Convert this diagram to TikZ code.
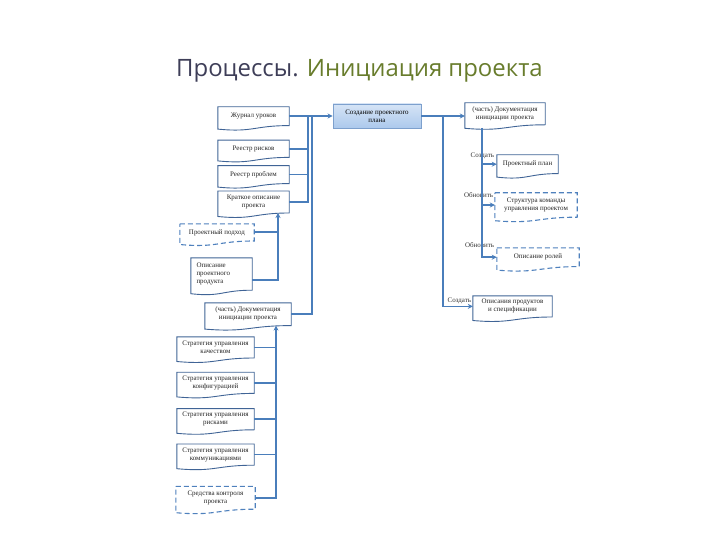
\documentclass[tikz,border=0pt]{standalone}
\usepackage{fontspec}
\setmainfont{Liberation Serif}
\newfontfamily\titlefont{Open Sans}
\usepackage{tikz}
\usetikzlibrary{arrows.meta, positioning, calc, backgrounds}
\definecolor{linkblue}{RGB}{74,126,187}
\definecolor{edgeblue}{RGB}{64,100,150}
\definecolor{dashblue}{RGB}{79,129,189}
\definecolor{ctrtop}{RGB}{214,228,246}
\definecolor{ctrbot}{RGB}{172,201,236}
\definecolor{ctredge}{RGB}{125,160,205}
\definecolor{titlegray}{RGB}{62,62,88}
\definecolor{titlegreen}{RGB}{104,124,44}
\definecolor{labelgray}{RGB}{50,50,50}
\tikzset{
  docbox/.style={rectangle,align=center,inner sep=1bp,font=\fontsize{7}{8}\selectfont,text=black!85},
  docline/.style={draw=edgeblue,line width=0.9bp,fill=white},
  dashline/.style={draw=dashblue,line width=1.1bp,dash pattern=on 5bp off 3bp,fill=white},
  procbox/.style={rectangle,draw=ctredge,line width=0.9bp,top color=ctrtop,bottom color=ctrbot,align=center,
                  font=\fontsize{7}{8}\selectfont,minimum width=88bp,minimum height=24bp,inner sep=1bp},
  actlabel/.style={font=\fontsize{7}{8}\selectfont,text=labelgray,inner sep=0.5bp,anchor=east},
  link/.style={draw=linkblue,line width=1.8bp},
  arr/.style={link,-{Stealth[length=5bp,width=5bp]}},
  titlepart/.style={font=\titlefont\fontsize{24}{28}\selectfont,inner sep=0pt,anchor=base west}
}

\begin{document}
\begin{tikzpicture}[x=1bp,y=-1bp]
  \useasboundingbox (0,0) rectangle (720,540);

  \node[titlepart] (title) at (176,77) {\textcolor{titlegray}{Процессы.} \textcolor{titlegreen}{Инициация проекта}};

  \node[docbox,minimum width=71bp,minimum height=18.4bp] (jrn) at (253.5,116.2) {Журнал уроков};
  \node[docbox,minimum width=71bp,minimum height=16.8bp,below=14.6bp of jrn] (rsk) {Реестр рисков};
  \node[docbox,minimum width=71bp,minimum height=17.6bp,below=8.2bp of rsk] (prb) {Реестр проблем};
  \node[docbox,minimum width=71bp,minimum height=21.6bp,below=7.4bp of prb] (brf) {Краткое описание\\проекта};
  \node[docbox,minimum width=74bp,minimum height=16.8bp] (apr) at (217,232.4) {Проектный подход};
  \node[docbox,minimum width=61bp,minimum height=32bp,align=left,text width=50bp] (pdd) at (221.5,274) {Описание\\проектного\\продукта};
  \node[docbox,minimum width=86bp,minimum height=22.4bp] (pid1) at (248,314.2) {(часть) Документация\\инициации проекта};
  \node[docbox,minimum width=77bp,minimum height=20.8bp] (qlt) at (215.5,347.4) {Стратегия управления\\качеством};
  \node[docbox,minimum width=77bp,minimum height=20.8bp,below=14.2bp of qlt] (cfg) {Стратегия управления\\конфигурацией};
  \node[docbox,minimum width=77bp,minimum height=20.8bp,below=15.2bp of cfg] (rskS) {Стратегия управления\\рисками};
  \node[docbox,minimum width=77bp,minimum height=20.8bp,below=14.2bp of rskS] (com) {Стратегия управления\\коммуникациями};
  \node[docbox,minimum width=79bp,minimum height=22.4bp,below=21.2bp of com] (ctl) {Средства контроля\\проекта};

  \node[procbox] (ctr) at (377,116) {Создание проектного\\плана};

  \node[docbox,minimum width=80bp,minimum height=21.6bp] (pidR) at (505,113.8) {(часть) Документация\\инициации проекта};
  \node[docbox,minimum width=61bp,minimum height=18.4bp] (pln) at (527.5,164.2) {Проектный план};
  \node[docbox,minimum width=82bp,minimum height=24bp] (mts) at (536,205) {Структура команды\\управления проектом};
  \node[docbox,minimum width=82bp,minimum height=18.4bp] (rol) at (538,257.2) {Описание ролей};
  \node[docbox,minimum width=79bp,minimum height=20.8bp] (prd) at (512.5,306.4) {Описания продуктов\\и спецификации};

  \node[actlabel] (lcr) at ($(pln.west)+(-2,-8)$) {Создать};
  \node[actlabel] (lup) at ($(mts.west)+(-1,-10)$) {Обновить};
  \node[actlabel] (lrl) at ($(rol.west)+(-2,-12)$) {Обновить};
  \node[actlabel] (lpd) at ($(prd.west)+(-1,-6)$) {Создать};

  \begin{pgfonlayer}{background}
    \foreach \n in {jrn,rsk,prb,brf,pdd,pid1,qlt,cfg,rskS,com,pidR,pln,prd}
      \draw[docline] (\n.north west) -- (\n.north east) -- (\n.south east)
        .. controls (\n.south) and ($(\n.south)+(0,7)$) .. ($(\n.south west)+(0,3.5)$) -- cycle;
    \foreach \n in {apr,ctl,mts,rol}
      \draw[dashline] (\n.north west) -- (\n.north east) -- (\n.south east)
        .. controls (\n.south) and ($(\n.south)+(0,7)$) .. ($(\n.south west)+(0,3.5)$) -- cycle;
  \end{pgfonlayer}

  \coordinate (busL) at (308,116); \coordinate (busP) at (312,116);
  \coordinate (busB) at (278,0); \coordinate (busA) at (276,0);
  \coordinate (busR) at (443,116); \coordinate (busV) at (482,0);

  \foreach \n in {jrn,rsk,prb,brf} \draw[link] (\n.east) -| (busL);
  \draw[link] (pid1.east) -| (busP);
  \draw[arr] (busL) -- (ctr.west);

  \draw[link] (apr.east) -- (apr.east -| busB);
  \draw[arr] ($(pdd.east)+(0,6)$) -| (busB |- brf.south);
  \foreach \n in {qlt,cfg,rskS,com} \draw[link] (\n.east) -- (\n.east -| busA);
  \draw[arr] (ctl.east) -| (busA |- pid1.south);

  \draw[arr] (ctr.east) -- (pidR.west |- ctr.east);
  \draw[arr] (busR) |- (prd.west);
  \draw[arr] ($(busV |- pidR.south)+(0,3)$) |- (rol.west);
  \draw[arr] (busV |- pln.west) -- (pln.west); \draw[arr] (busV |- mts.west) -- (mts.west);
\end{tikzpicture}
\end{document}
